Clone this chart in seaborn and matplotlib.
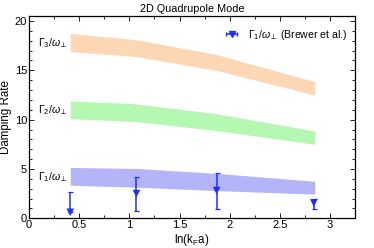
import matplotlib
matplotlib.use("Agg")
import matplotlib.pyplot as plt
import seaborn as sns
import pandas as pd
import numpy as np
from matplotlib.ticker import MultipleLocator

# band positions (ln(kF a)) and upper/lower edges
x_band = [0.41, 1.07, 1.87, 2.85]
g3_hi = [18.75, 18.1, 16.6, 13.85]
g3_lo = [16.9, 16.4, 15.0, 12.5]
g2_hi = [11.9, 11.6, 10.6, 8.85]
g2_lo = [10.1, 9.8, 8.9, 7.5]
g1_hi = [5.15, 5.05, 4.55, 3.75]
g1_lo = [3.35, 3.15, 2.8, 2.45]

# Brewer et al. data
x_exp = [0.41, 1.07, 1.87, 2.84]
y_exp = [0.6, 2.5, 2.8, 1.55]
err_lo = [0.0, 1.8, 1.86, 0.6]
err_hi = [2.03, 1.65, 1.76, 0.4]

sns.set_style("ticks")
plt.rcParams['font.family'] = ['Liberation Sans', 'DejaVu Sans']
plt.rcParams['mathtext.fontset'] = 'custom'
plt.rcParams['mathtext.rm'] = 'Liberation Sans'
plt.rcParams['mathtext.it'] = 'Liberation Sans:italic'
plt.rcParams['text.color'] = 'black'
plt.rcParams['axes.labelcolor'] = 'black'
plt.rcParams['xtick.color'] = 'black'
plt.rcParams['ytick.color'] = 'black'
plt.rcParams['axes.edgecolor'] = 'black'

blue = '#1f2fff'

fig = plt.figure(figsize=(3.74, 2.48), dpi=100)
ax = fig.add_axes([0.078, 0.12, 0.871, 0.815])

ax.fill_between(x_band, g3_lo, g3_hi, color='#fdd6b4', lw=0)
ax.fill_between(x_band, g2_lo, g2_hi, color='#b4f8b2', lw=0)
ax.fill_between(x_band, g1_lo, g1_hi, color='#b4b4f8', lw=0)

ax.errorbar(x_exp, y_exp, yerr=[err_lo, err_hi], fmt='none', ecolor=blue,
            elinewidth=1.1, capsize=1.8, capthick=0.9)
df = pd.DataFrame({'x': x_exp, 'y': y_exp})
sns.scatterplot(data=df, x='x', y='y', marker='v', color=blue, s=30,
                edgecolor='none', ax=ax, zorder=3)

# legend proxy (not drawn in the axes)
ax.errorbar([np.nan], [np.nan], xerr=[[1], [1]], fmt='v', color=blue, ms=4.5,
            elinewidth=1.1, capsize=1.5,
            label=r'$\Gamma_1/\omega_\perp$ (Brewer et al.)')
ax.legend(loc='upper right', frameon=False, fontsize=7.6, handlelength=1.0,
          handletextpad=1.0, borderaxespad=0.2, bbox_to_anchor=(0.995, 0.975))

ax.text(0.09, 17.8, r'$\Gamma_3/\omega_\perp$', fontsize=7.6, va='center')
ax.text(0.09, 11.0, r'$\Gamma_2/\omega_\perp$', fontsize=7.6, va='center')
ax.text(0.09, 4.2, r'$\Gamma_1/\omega_\perp$', fontsize=7.6, va='center')

ax.set_xlim(0, 3.25)
ax.set_ylim(0, 20.5)
ax.xaxis.set_minor_locator(MultipleLocator(0.25))
ax.yaxis.set_major_locator(MultipleLocator(5))
ax.yaxis.set_minor_locator(MultipleLocator(1))
ax.set_xticks([0, 0.5, 1, 1.5, 2, 2.5, 3])
ax.set_xticklabels(['0', '0.5', '1', '1.5', '2', '2.5', '3'])
ax.tick_params(which='both', direction='in', top=True, right=True,
               labelsize=8, pad=1.5, width=0.6)
ax.tick_params(which='major', length=3.5)
ax.tick_params(which='minor', length=2)
for s in ax.spines.values():
    s.set_linewidth(0.9)

ax.set_title('2D Quadrupole Mode', fontsize=7.8, pad=3)
ax.set_xlabel(r'ln(k$_\mathrm{F}$a)', fontsize=8.3, labelpad=1)
ax.set_ylabel('Damping Rate', fontsize=8.3, labelpad=2)

fig.savefig('out.png', dpi=100)
